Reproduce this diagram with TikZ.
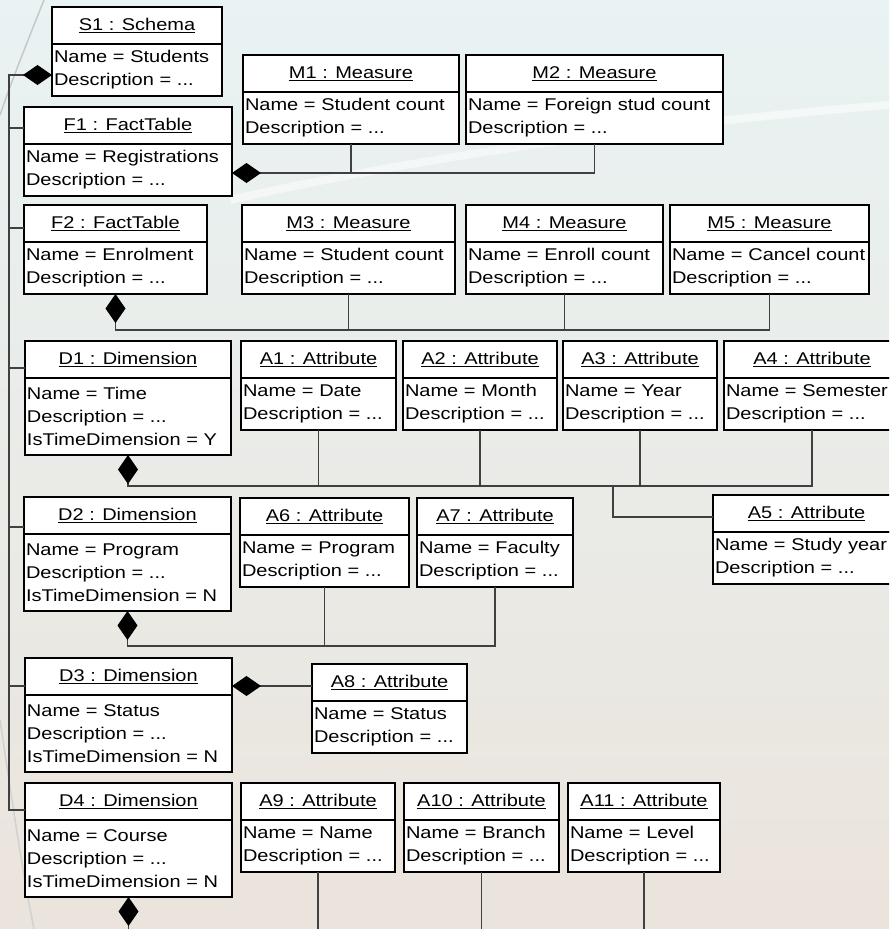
\documentclass[tikz,border=0pt]{standalone}
\usepackage{fontspec}
\newfontfamily\objfont[FakeStretch=1.176]{Liberation Sans}
\usetikzlibrary{arrows.meta}

\newcommand{\objsize}{\objfont\fontsize{17pt}{23pt}\selectfont}

\tikzset{
  objhead/.style={draw, line width=1.5pt, fill=white, anchor=north west,
    minimum height=37pt, inner sep=0pt, outer sep=0pt, font=\objsize},
  objbody/.style={draw, line width=1.5pt, fill=white, anchor=north west,
    inner xsep=2pt, inner ysep=0pt, outer sep=0pt, align=left, font=\objsize},
  link/.style={line width=1.2pt, draw=black!75},
  comp/.style={link, {Diamond[length=29pt, width=20pt, color=black, fill=black]}-}
}

% object box: [body height] name, x, y, width, title, lines
\newcommand{\umlobj}[7][52]{%
  \pgfmathsetmacro{\objtw}{#5-4}
  \node[objhead, minimum width=#5pt] (#2) at (#3,#4) {\underline{#6}};
  \node[objbody, minimum width=#5pt, minimum height=#1pt, text width=\objtw pt] (#2b) at (#2.south west) {#7};
}

\begin{document}
\begin{tikzpicture}[x=1pt, y=-1pt]
    \useasboundingbox (0,0) rectangle (889,929);
    \clip (0,0) rectangle (889,929);

    % background
    \fill[top color=black!5!white!96!cyan, middle color=cyan!6!white!93!black, bottom color=brown!12!white!95!black]
        (0,0) rectangle (889,929);
    \draw[white, line width=8pt, opacity=0.5] (230,200) .. controls (450,150) and (700,120) .. (889,105);
    \draw[black!22, line width=1.5pt] (44,0) .. controls (28,40) and (12,80) .. (0,115);
    \draw[black!18, line width=1.5pt] (0,720) .. controls (12,800) and (22,870) .. (34,929);

    % schema and fact tables
    \umlobj{s1}{52}{7}{170}{S1 : Schema}{Name = Students\\Description = ...}
    \umlobj{f1}{24}{107}{208}{F1 : FactTable}{Name = Registrations\\Description = ...}
    \umlobj{m1}{243}{55}{216}{M1 : Measure}{Name = Student count\\Description = ...}
    \umlobj{m2}{466}{55}{257}{M2 : Measure}{Name = Foreign stud count\\Description = ...}
    \umlobj{f2}{24}{205}{183}{F2 : FactTable}{Name = Enrolment\\Description = ...}
    \umlobj{m3}{242}{205}{213}{M3 : Measure}{Name = Student count\\Description = ...}
    \umlobj{m4}{466}{205}{197}{M4 : Measure}{Name = Enroll count\\Description = ...}
    \umlobj{m5}{670}{205}{199}{M5 : Measure}{Name = Cancel count\\Description = ...}

    % dimensions and attributes
    \umlobj[77]{d1}{25}{341}{206}{D1 : Dimension}{Name = Time\\Description = ...\\IsTimeDimension = Y}
    \umlobj{a1}{241}{341}{155}{A1 : Attribute}{Name = Date\\Description = ...}
    \umlobj{a2}{403}{341}{154}{A2 : Attribute}{Name = Month\\Description = ...}
    \umlobj{a3}{563}{341}{154}{A3 : Attribute}{Name = Year\\Description = ...}
    \umlobj{a4}{724}{341}{176}{A4 : Attribute}{Name = Semester\\Description = ...}
    \umlobj{a5}{713}{495}{187}{A5 : Attribute}{Name = Study year\\Description = ...}
    \umlobj[77]{d2}{24}{497}{207}{D2 : Dimension}{Name = Program\\Description = ...\\IsTimeDimension = N}
    \umlobj{a6}{240}{498}{169}{A6 : Attribute}{Name = Program\\Description = ...}
    \umlobj{a7}{417}{498}{156}{A7 : Attribute}{Name = Faculty\\Description = ...}
    \umlobj[77]{d3}{25}{658}{207}{D3 : Dimension}{Name = Status\\Description = ...\\IsTimeDimension = N}
    \umlobj{a8}{312}{664}{155}{A8 : Attribute}{Name = Status\\Description = ...}
    \umlobj[77]{d4}{25}{783}{207}{D4 : Dimension}{Name = Course\\Description = ...\\IsTimeDimension = N}
    \umlobj{a9}{241}{783}{154}{A9 : Attribute}{Name = Name\\Description = ...}
    \umlobj{a10}{404}{783}{155}{A10 : Attribute}{Name = Branch\\Description = ...}
    \umlobj{a11}{568}{783}{152}{A11 : Attribute}{Name = Level\\Description = ...}

    % trunk from the schema
    \coordinate (trunk) at (9,0);
    \coordinate (s1in) at ([yshift=-5pt]s1b.west);
    \coordinate (f1in) at ([yshift=-2.5pt]f1.west);
    \coordinate (f2in) at ([yshift=-4.5pt]f2.west);
    \coordinate (d1in) at ([yshift=-8.5pt]d1.west);
    \coordinate (d2in) at ([yshift=-11.5pt]d2.west);
    \coordinate (d3in) at ([yshift=-9.5pt]d3.west);
    \coordinate (d4in) at ([yshift=-8.5pt]d4.west);
    \draw[comp] (s1in) -| (trunk |- d4in) -- (d4in);
    \draw[link] (trunk |- f1in) -- (f1in);
    \draw[link] (trunk |- f2in) -- (f2in);
    \draw[link] (trunk |- d1in) -- (d1in);
    \draw[link] (trunk |- d2in) -- (d2in);
    \draw[link] (trunk |- d3in) -- (d3in);

    % F1 measures
    \coordinate (f1out) at ([yshift=-3pt]f1b.east);
    \draw[comp] (f1out) -| (m2b.south);
    \draw[link] (m1b.south) -- (m1b.south |- f1out);

    % F2 measures
    \coordinate (f2bus) at (0,330);
    \draw[comp] (f2b.south) |- (m5b.south |- f2bus) -- (m5b.south);
    \draw[link] (m3b.south) -- (m3b.south |- f2bus);
    \draw[link] (m4b.south) -- (m4b.south |- f2bus);

    % D1 attributes
    \coordinate (d1bus) at (0,486);
    \draw[comp] (d1b.south) |- (a4b.south |- d1bus) -- (a4b.south);
    \draw[link] (a1b.south) -- (a1b.south |- d1bus);
    \draw[link] (a2b.south) -- (a2b.south |- d1bus);
    \draw[link] (a3b.south) -- (a3b.south |- d1bus);
    \coordinate (a5jn) at (613,486);
    \coordinate (a5in) at ([yshift=-3.5pt]a5.west);
    \draw[link] (a5jn) |- (a5in);

    % D2 attributes
    \coordinate (d2bus) at (0,646);
    \draw[comp] (d2b.south) |- (a7b.south |- d2bus) -- (a7b.south);
    \draw[link] (a6b.south) -- (a6b.south |- d2bus);

    % D3 attribute
    \coordinate (d3out) at ([yshift=-9.5pt]d3.east);
    \draw[comp] (d3out) -- (a8.west |- d3out);

    % D4 attributes, bus below the page edge
    \coordinate (d4bus) at (0,960);
    \draw[comp] (d4b.south) |- (a11b.south |- d4bus) -- (a11b.south);
    \draw[link] (a9b.south) -- (a9b.south |- d4bus);
    \draw[link] (a10b.south) -- (a10b.south |- d4bus);
\end{tikzpicture}
\end{document}
